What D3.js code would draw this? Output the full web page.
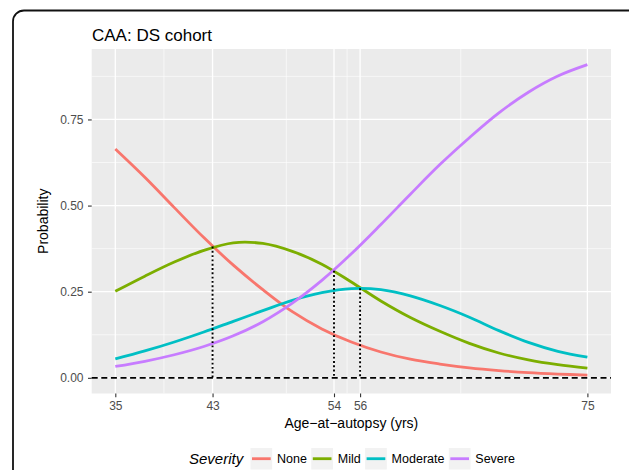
<!DOCTYPE html>
<html>
<head>
<meta charset="utf-8">
<script src="https://cdn.jsdelivr.net/npm/d3@7/dist/d3.min.js"></script>
<style>
  body { margin: 0; background: #fff; }
  text { font-family: "Liberation Sans", Arial, sans-serif; }
</style>
</head>
<body>
<div id="chart-area"></div>
<script>
var ages = [35, 37.5, 40, 42.5, 45, 47.5, 50, 52.5, 55, 57.5, 60, 62.5, 65, 67.5, 70, 72.5, 75];
var none = [0.664, 0.582, 0.494, 0.407, 0.327, 0.256, 0.192, 0.142, 0.104, 0.075, 0.054, 0.040, 0.029, 0.021, 0.015, 0.011, 0.008];
var mild = [0.251, 0.295, 0.336, 0.370, 0.392, 0.390, 0.367, 0.330, 0.278, 0.223, 0.175, 0.135, 0.100, 0.072, 0.052, 0.038, 0.028];
var moderate = [0.055, 0.078, 0.104, 0.133, 0.164, 0.195, 0.225, 0.247, 0.259, 0.256, 0.238, 0.210, 0.176, 0.137, 0.103, 0.077, 0.060];
var severe = [0.033, 0.048, 0.067, 0.091, 0.122, 0.163, 0.217, 0.283, 0.360, 0.445, 0.533, 0.619, 0.697, 0.769, 0.829, 0.876, 0.909];

var severityNames = ["None", "Mild", "Moderate", "Severe"];
var severityColors = ["#F8766D", "#7CAE00", "#00BFC4", "#C77CFF"];

var xTicks = [35, 43.24, 53.53, 55.74, 75];
var xTickLabels = ["35", "43", "54", "56", "75"];
var xMinor = [39.12, 49.49, 54.64, 64.27];
var yTicks = [0, 0.25, 0.5, 0.75];
var yMinor = [0.125, 0.375, 0.625, 0.875];

// ages where one severity overtakes another, and the probability there
var cutAges = [43.24, 53.53, 55.74];
var cutProbs = [0.381, 0.311, 0.260];

var width = 629, height = 470;
var margin = {top: 49, right: 18, bottom: 76.5, left: 91.7};
var innerW = width - margin.left - margin.right;
var innerH = height - margin.top - margin.bottom;

var svg = d3.select("#chart-area").append("svg")
  .attr("width", width)
  .attr("height", height);

// outer frame (cropped on the right and bottom)
svg.append("rect")
  .attr("x", 13).attr("y", 10.5)
  .attr("width", 640).attr("height", 480)
  .attr("rx", 11).attr("ry", 11)
  .attr("fill", "none")
  .attr("stroke", "#111")
  .attr("stroke-width", 1.8);

var g = svg.append("g")
  .attr("transform", "translate(" + margin.left + "," + margin.top + ")");

var x = d3.scaleLinear().domain([33, 77]).range([0, innerW]);
var y = d3.scaleLinear().domain([-0.0455, 0.9545]).range([innerH, 0]);

g.append("rect")
  .attr("width", innerW).attr("height", innerH)
  .attr("fill", "#EBEBEB");

g.selectAll(".ygrid-minor").data(yMinor).enter().append("line")
  .attr("x1", 0).attr("x2", innerW)
  .attr("y1", (d) => y(d)).attr("y2", (d) => y(d))
  .attr("stroke", "#fff").attr("stroke-width", 0.6);
g.selectAll(".xgrid-minor").data(xMinor).enter().append("line")
  .attr("y1", 0).attr("y2", innerH)
  .attr("x1", (d) => x(d)).attr("x2", (d) => x(d))
  .attr("stroke", "#fff").attr("stroke-width", 0.6);
g.selectAll(".ygrid").data(yTicks).enter().append("line")
  .attr("x1", 0).attr("x2", innerW)
  .attr("y1", (d) => y(d)).attr("y2", (d) => y(d))
  .attr("stroke", "#fff").attr("stroke-width", 1.3);
g.selectAll(".xgrid").data(xTicks).enter().append("line")
  .attr("y1", 0).attr("y2", innerH)
  .attr("x1", (d) => x(d)).attr("x2", (d) => x(d))
  .attr("stroke", "#fff").attr("stroke-width", 1.3);

var line = d3.line()
  .x((d, i) => x(ages[i]))
  .y((d) => y(d))
  .curve(d3.curveCatmullRom);

var series = [none, mild, moderate, severe];
g.selectAll(".curve").data(series).enter().append("path")
  .attr("class", "curve")
  .attr("d", (d) => line(d))
  .attr("fill", "none")
  .attr("stroke", (d, i) => severityColors[i])
  .attr("stroke-width", 2.8);

// dotted drop lines at the crossing ages
g.selectAll(".drop").data(cutAges).enter().append("line")
  .attr("x1", (d) => x(d)).attr("x2", (d) => x(d))
  .attr("y1", (d, i) => y(cutProbs[i])).attr("y2", y(0))
  .attr("stroke", "#000")
  .attr("stroke-width", 1.9)
  .attr("stroke-dasharray", "1.9,2.4");

g.append("line")
  .attr("x1", 0).attr("x2", innerW)
  .attr("y1", y(0)).attr("y2", y(0))
  .attr("stroke", "#000")
  .attr("stroke-width", 1.9)
  .attr("stroke-dasharray", "6,3.6");

var leftAxis = d3.axisLeft(y)
  .tickValues(yTicks)
  .tickFormat(d3.format(".2f"))
  .tickSize(3.7)
  .tickPadding(4.5);
var ga = g.append("g").attr("class", "left axis").call(leftAxis);
ga.select(".domain").remove();
ga.selectAll("line").attr("stroke", "#333").attr("stroke-width", 1.1);
ga.selectAll("text").attr("fill", "#4D4D4D").attr("font-size", "12px")
  .style("font-family", "Liberation Sans, Arial, sans-serif");

var bottomAxis = d3.axisBottom(x)
  .tickValues(xTicks)
  .tickFormat((d, i) => xTickLabels[i])
  .tickSize(3.7)
  .tickPadding(4.3);
var gb = g.append("g").attr("class", "bottom axis")
  .attr("transform", "translate(0," + innerH + ")")
  .call(bottomAxis);
gb.select(".domain").remove();
gb.selectAll("line").attr("stroke", "#333").attr("stroke-width", 1.1);
gb.selectAll("text").attr("fill", "#4D4D4D").attr("font-size", "12px")
  .style("font-family", "Liberation Sans, Arial, sans-serif");

svg.append("text")
  .attr("x", 92).attr("y", 41)
  .attr("font-size", "17px")
  .style("fill", "#000")
  .text("CAA: DS cohort");

svg.append("text")
  .attr("x", margin.left + innerW / 2).attr("y", 428)
  .attr("font-size", "14px")
  .attr("text-anchor", "middle")
  .style("fill", "#000")
  .text("Age\u2212at\u2212autopsy (yrs)");

svg.append("text")
  .attr("transform", "translate(48," + (margin.top + innerH / 2) + ") rotate(-90)")
  .attr("font-size", "14px")
  .attr("text-anchor", "middle")
  .style("fill", "#000")
  .text("Probability");

// legend
var legend = svg.append("g").attr("class", "legend");
legend.append("text")
  .attr("x", 189).attr("y", 464)
  .attr("font-size", "15px")
  .attr("font-style", "italic")
  .style("fill", "#000")
  .text("Severity");

var lx = 250.5;
severityNames.forEach((name, i) => {
  legend.append("rect")
    .attr("x", lx).attr("y", 448)
    .attr("width", 21.7).attr("height", 21.5)
    .attr("fill", "#F2F2F2");
  legend.append("line")
    .attr("x1", lx + 1.5).attr("x2", lx + 20.2)
    .attr("y1", 458.7).attr("y2", 458.7)
    .attr("stroke", severityColors[i])
    .attr("stroke-width", 2.8);
  var t = legend.append("text")
    .attr("x", lx + 26.5).attr("y", 463)
    .attr("font-size", "12.5px")
    .style("fill", "#000")
    .text(name);
  lx = lx + 26.5 + t.node().getComputedTextLength() + 4.4;
});
</script>
</body>
</html>
